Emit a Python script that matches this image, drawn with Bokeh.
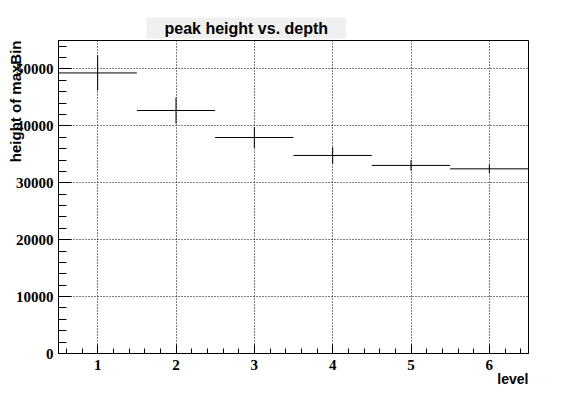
from bokeh.plotting import figure
from bokeh.models import ColumnDataSource, Range1d, FixedTicker, Title
from bokeh.embed import file_html
from bokeh.resources import INLINE

# ---- data ----
level = [1, 2, 3, 4, 5, 6]
height = [49300, 42700, 37950, 34800, 33050, 32450]
height_err = [3100, 2300, 1850, 1450, 900, 750]
level_halfwidth = [0.5, 0.5, 0.5, 0.5, 0.5, 0.5]

x_major = [1, 2, 3, 4, 5, 6]
y_major = [0, 10000, 20000, 30000, 40000, 50000]

title_text = "peak height vs. depth"
x_title = "level"
y_title = "height of maxBin"

src = ColumnDataSource(dict(
    x=level,
    y=height,
    x0=[l - w for l, w in zip(level, level_halfwidth)],
    x1=[l + w for l, w in zip(level, level_halfwidth)],
    y0=[h - e for h, e in zip(height, height_err)],
    y1=[h + e for h, e in zip(height, height_err)],
))

X0, X1 = 0.5, 6.5
Y0, Y1 = 0, 55000

p = figure(width=587, height=394, output_backend="svg", toolbar_location=None,
           x_range=Range1d(X0, X1), y_range=Range1d(Y0, Y1), title=None,
           min_border_left=58, min_border_right=59, min_border_top=40, min_border_bottom=41)
p.background_fill_color = "white"
p.border_fill_color = "white"
p.outline_line_color = "black"
p.outline_line_width = 1

# ticks
x_minor = [round(0.6 + 0.2 * i, 1) for i in range(30) if round(0.6 + 0.2 * i, 1) not in x_major]
y_minor = [v for v in range(0, 56000, 2000) if v not in y_major]
p.xaxis.ticker = FixedTicker(ticks=x_major, minor_ticks=x_minor)
p.yaxis.ticker = FixedTicker(ticks=y_major, minor_ticks=y_minor)
p.yaxis.major_label_overrides = {v: str(v) for v in y_major}

for ax in (p.xaxis, p.yaxis):
    ax.axis_line_color = "black"
    ax.major_tick_line_color = "black"
    ax.minor_tick_line_color = "black"
    ax.major_tick_out = 0
    ax.minor_tick_out = 0
    ax.major_label_text_font = "Liberation Serif"
    ax.major_label_text_font_style = "bold"
    ax.major_label_text_font_size = "15px"
    ax.major_label_text_color = "black"
p.yaxis.major_tick_in = 13
p.yaxis.minor_tick_in = 8
p.xaxis.major_tick_in = 9
p.xaxis.minor_tick_in = 5
p.yaxis.major_label_standoff = 5
p.xaxis.major_label_standoff = 6

p.grid.grid_line_color = "black"
p.grid.grid_line_dash = "1 2"
p.grid.grid_line_width = 1

# error crosses
p.segment(x0="x0", y0="y", x1="x1", y1="y", source=src, line_color="black", line_width=1)
p.segment(x0="x", y0="y0", x1="x", y1="y1", source=src, line_color="black", line_width=1)

# title box
t = Title(text=title_text, align="left", offset=88, standoff=4,
          text_font="Liberation Sans", text_font_style="bold", text_font_size="16px",
          text_color="black", background_fill_color="#f0f0f0",
          padding=dict(left=18, right=18, top=2, bottom=2))
p.add_layout(t, "above")

# axis titles (ROOT style: aligned to the end of the axis)
xt = Title(text=x_title, align="right", standoff=-7,
           text_font="Liberation Sans", text_font_style="bold", text_font_size="14px",
           text_color="black")
p.add_layout(xt, "below")
yt = Title(text=y_title, align="right", standoff=-23,
           text_font="Liberation Sans", text_font_style="bold", text_font_size="15px",
           text_color="black")
p.add_layout(yt, "left")

open("out.html", "w").write(file_html(p, INLINE))
